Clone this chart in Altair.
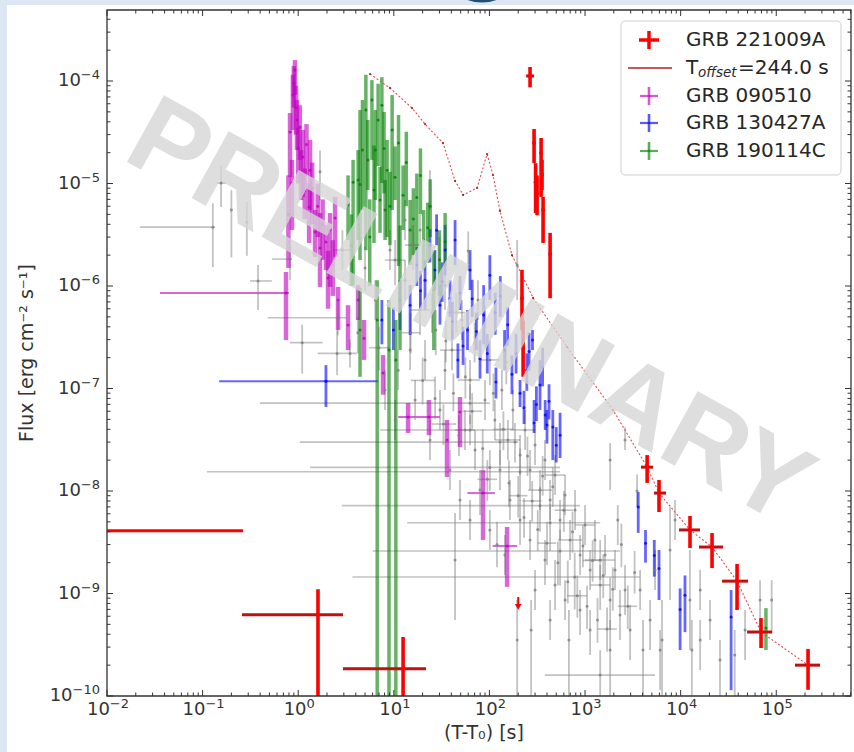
import altair as alt
import pandas as pd

# Light curves: time since trigger (s) and energy flux (erg cm^-2 s^-1).
# Rows: (t, flux, flux_low, flux_high) or (t, flux, flux_low, flux_high, t_low, t_high)
GRB221009A = [
    (1.61, 6.2e-10, 1e-12, 1.1e-9, 0.258, 2.94),
    (12.5, 1.84e-10, 1e-12, 3.77e-10, 2.94, 21.7),
    (219, 7.6e-7, 3.7e-7, 1.44e-6),
    (225, 2.5e-7, 1.3e-7, 4.6e-7),
    (266, 1.12e-4, 8.7e-5, 1.37e-4, 242, 293),
    (293, 2.48e-5, 1.58e-5, 3.4e-5),
    (304, 1.03e-5, 5.15e-6, 1.58e-5),
    (315, 8.1e-6, 4.9e-6, 1.2e-5),
    (347, 1.99e-5, 7.4e-6, 2.78e-5),
    (355, 1.21e-5, 8.6e-6, 1.7e-5),
    (364, 5.5e-6, 2.63e-6, 7.4e-6),
    (431, 2.05e-6, 7.6e-7, 3.3e-6),
    (4460, 1.71e-8, 1.2e-8, 2.24e-8, 3850, 5140),
    (5940, 9.55e-9, 6.24e-9, 1.28e-8, 5270, 7030),
    (12530, 4.17e-9, 2.78e-9, 5.7e-9, 9620, 15960),
    (21300, 2.84e-9, 1.77e-9, 3.89e-9, 15560, 27800),
    (38900, 1.32e-9, 6.9e-10, 1.94e-9, 27100, 50700),
    (69300, 4.21e-10, 2.94e-10, 5.76e-10, 49500, 90400),
    (215000, 2.0e-10, 1.15e-10, 2.88e-10, 157000, 287000),
]
GRB221009A_EARLY = [(0.005, 4.1e-9, 4.1e-9, 4.1e-9, 0.002, 0.265)]
GRB221009A_UL = [(200, 7.4e-10)]

# GRB 221009A light curve shifted by T_offset = 244.0 s
T_OFFSET_T = [5.64, 9.12, 15.5, 21.2, 32.7, 43.7, 53.0, 74.2, 94.4, 109, 129, 172, 219,
              286, 649, 1963, 4460, 5940, 12530, 21300, 38900, 69300, 215000]
T_OFFSET_F = [1.17e-4, 8.55e-5, 5.45e-5, 3.8e-5, 2.48e-5, 1.06e-5, 7.73e-6, 9.04e-6,
              1.94e-5, 1.21e-5, 5.4e-6, 2.0e-6, 1.28e-6, 7.64e-7, 2.54e-7, 6.17e-8,
              1.71e-8, 9.55e-9, 4.17e-9, 2.84e-9, 1.32e-9, 4.21e-10, 2.0e-10]

GRB090510 = [
    (0.924, 1.28e-4, 7.3e-5, 1.6e-4), (0.88, 7.3e-5, 3.33e-5, 1.15e-4),
    (0.90, 9.5e-5, 5.5e-5, 1.4e-4), (0.95, 5.5e-5, 3.0e-5, 9.0e-5),
    (0.821, 3.18e-5, 1.16e-5, 4.87e-5), (0.97, 4.17e-5, 2.12e-5, 6.53e-5),
    (1.04, 3.56e-5, 1.7e-5, 5.8e-5), (0.86, 1.01e-5, 3.52e-6, 1.7e-5),
    (1.0, 2.2e-5, 1.0e-5, 3.5e-5), (0.79, 5e-6, 1.5e-6, 1.2e-5),
    (1.12, 1.81e-5, 7.4e-6, 3.33e-5), (1.33, 1.35e-5, 5.51e-6, 2.66e-5),
    (1.17, 8.5e-6, 4.5e-6, 1.4e-5), (1.22, 2.4e-5, 1.2e-5, 3.8e-5),
    (1.07, 1.21e-5, 6.9e-6, 2.12e-5), (1.30, 5.9e-6, 2.63e-6, 1.01e-5),
    (1.4, 9e-6, 4e-6, 1.6e-5), (1.6, 6e-6, 3e-6, 1e-5),
    (1.50, 3.36e-6, 1.92e-6, 5.51e-6), (1.69, 2.35e-6, 9.8e-7, 5.15e-6),
    (1.8, 4e-6, 1.8e-6, 7e-6), (2.05, 1.2e-6, 6e-7, 2.2e-6),
    (1.95, 2.69e-6, 1.43e-6, 3.95e-6), (2.15, 3.52e-6, 9.8e-7, 5.15e-6),
    (2.3, 1.6e-6, 8e-7, 2.8e-6),
    (2.43, 4.6e-6, 1.92e-6, 7.4e-6), (2.61, 7.3e-7, 3.72e-7, 9.8e-7),
    (0.745, 8.55e-7, 2.97e-7, 1.37e-6, 0.0358, 0.80),
    (3.32, 4.17e-7, 2.37e-7, 6.5e-7), (4.23, 7.3e-7, 4.66e-7, 1.02e-6),
    (4.88, 3.1e-7, 1.9e-7, 4.66e-7), (7.71, 1.42e-7, 8.7e-8, 2.12e-7),
    (14.1, 5.27e-8, 3.68e-8, 7.22e-8, 11.1, 18.8),
    (23.3, 5.27e-8, 3.5e-8, 7.72e-8, 18.8, 30.4),
    (36.0, 3.15e-8, 1.37e-8, 4.93e-8), (49.2, 5.9e-8, 2.69e-8, 8.26e-8),
    (85.7, 9.55e-9, 3.33e-9, 1.6e-8, 58.9, 114),
    (153, 2.91e-9, 1.16e-9, 4.46e-9, 108, 195),
]

GRB130427A = [
    (1.95, 1.18e-7, 6.6e-8, 1.69e-7, 0.149, 6.84),
    (7.5, 4.66e-7, 2.7e-7, 7.3e-7), (9.9, 3.72e-7, 2.37e-7, 6.17e-7),
    (11.6, 7.3e-7, 3.72e-7, 1.14e-6), (14.8, 6.5e-7, 3.33e-7, 1.02e-6),
    (17.4, 1.6e-6, 1.0e-6, 2.4e-6), (19.0, 9e-7, 6e-7, 1.4e-6),
    (21.2, 1.14e-6, 5.83e-7, 1.79e-6),
    (23.9, 2.5e-6, 1.7e-6, 3.6e-6), (26.9, 1.43e-6, 9.14e-7, 2.24e-6),
    (28.0, 3.5e-6, 2.5e-6, 5.0e-6), (30.4, 6.5e-7, 4.2e-7, 1.03e-6),
    (32.0, 1.1e-6, 7e-7, 1.7e-6),
    (34.4, 2.24e-6, 1.27e-6, 3.95e-6), (38.7, 7.6e-7, 5.0e-7, 1.14e-6),
    (41.0, 4.5e-7, 3e-7, 7e-7),
    (43.7, 2.81e-6, 1.6e-6, 4.4e-6), (46.8, 1.9e-7, 1.26e-7, 2.75e-7),
    (49.2, 8.6e-7, 5.83e-7, 1.25e-6), (53.0, 2.6e-7, 1.7e-7, 4e-7),
    (59.0, 3.72e-7, 2.37e-7, 5.83e-7),
    (62.7, 1.43e-6, 9.14e-7, 2.24e-6), (66.0, 7.5e-7, 5e-7, 1.15e-6),
    (73.0, 3.6e-7, 2.37e-7, 5.5e-7),
    (79.7, 1.95e-7, 1.25e-7, 2.97e-7), (87.0, 5.2e-7, 2.7e-7, 1.02e-6),
    (95.0, 2.2e-7, 1.4e-7, 3.4e-7),
    (101, 1.27e-6, 7.3e-7, 2.0e-6), (115, 5.5e-7, 3.35e-7, 8.6e-7),
    (117, 1.16e-7, 8.0e-8, 1.6e-7), (130, 8e-7, 5e-7, 1.25e-6),
    (144, 2.37e-7, 1.51e-7, 3.72e-7),
    (155, 4.2e-7, 2.6e-7, 6.2e-7), (172, 1.38e-7, 8.8e-8, 2.1e-7),
    (190, 2.2e-7, 1.4e-7, 3.4e-7),
    (209, 9.0e-8, 6.6e-8, 1.21e-7), (230, 6.5e-8, 4.5e-8, 9.5e-8),
    (246, 1.51e-7, 9.5e-8, 2.2e-7), (260, 2.3e-7, 1.5e-7, 3.5e-7),
    (282, 2.97e-7, 2.37e-7, 3.72e-7), (293, 4.6e-8, 3.68e-8, 7.72e-8),
    (310, 7e-8, 4.8e-8, 1.05e-7),
    (338, 1.08e-7, 6.17e-8, 1.9e-7), (360, 1.6e-7, 1.05e-7, 2.5e-7),
    (383, 5.5e-8, 3.94e-8, 7.72e-8),
    (400, 4.4e-8, 2.9e-8, 6.17e-8), (420, 7.5e-8, 5e-8, 1.1e-7),
    (460, 4.2e-8, 2.0e-8, 6.17e-8), (500, 2.8e-8, 1.9e-8, 4.2e-8),
    (548, 3.5e-8, 2.1e-8, 5.8e-8),
    (3600, 7.0e-9, 3.9e-9, 9.8e-9), (4290, 3.1e-9, 2.0e-9, 4.17e-9),
    (5300, 2.35e-9, 1.46e-9, 3.33e-9), (5940, 1.75e-9, 8.64e-10, 2.66e-9),
    (9870, 7.0e-10, 2.81e-10, 1.12e-9), (11100, 9.6e-10, 4.2e-10, 1.5e-9),
    (33700, 5.9e-10, 1.14e-10, 1.08e-9),
]

GRB190114C = [
    (3.32, 6.2e-6, 2.81e-6, 1.2e-5), (3.75, 1.03e-5, 1.02e-6, 1.7e-5),
    (3.6, 2.5e-6, 1e-6, 5e-6),
    (4.23, 1.08e-5, 2.81e-6, 2.12e-5), (4.43, 9.8e-6, 1.79e-6, 5.21e-5),
    (4.7, 2.12e-5, 5.51e-6, 6.53e-5), (5.1, 5.21e-5, 2.24e-6, 1.15e-4),
    (5.35, 1.7e-5, 8.64e-6, 4.17e-5), (5.6, 3e-6, 1e-6, 7e-6),
    (5.9, 6.53e-5, 1.7e-5, 1.02e-4),
    (6.2, 8.64e-6, 2.63e-6, 2.35e-5), (6.4, 2.12e-5, 6.9e-6, 5.21e-5),
    (6.85, 4.17e-5, 1.48e-5, 9.4e-5), (7.17, 6.9e-6, 3.3e-6, 1.45e-5),
    (7.5, 5.8e-5, 1.01e-5, 1.09e-4), (7.9, 2.2e-5, 8e-6, 5e-5),
    (8.1, 5.51e-6, 2.81e-6, 1.08e-5),
    (8.5, 1.35e-5, 3.0e-6, 2.66e-5), (9.1, 6e-6, 2.5e-6, 1.3e-5),
    (9.6, 3.33e-5, 5.51e-6, 7.3e-5),
    (10.3, 1.15e-5, 6.9e-6, 2.3e-5), (11.2, 2.48e-5, 1.57e-6, 4.67e-5),
    (12.5, 7.7e-6, 3.52e-6, 1.5e-5), (13.5, 1.6e-5, 6e-6, 3.2e-5),
    (14.8, 3.52e-6, 1.6e-6, 6.9e-6), (16.0, 4.5e-6, 2e-6, 9e-6),
    (17.4, 7.3e-6, 2.24e-6, 1.25e-5), (19.0, 1.2e-5, 5e-6, 2.2e-5),
    (20.5, 2.81e-6, 1.43e-6, 5.51e-6),
    (22.6, 3.7e-6, 1.68e-6, 6.5e-6), (24.0, 6e-6, 3e-6, 1.1e-5),
    (26.2, 9.14e-7, 2.37e-7, 2.24e-6), (30.0, 1.8e-6, 8e-7, 3.5e-6),
    (34.4, 2.7e-6, 1.56e-6, 5.15e-6), (11.6, 7.3e-7, 2.37e-7, 3.9e-6),
    (4.43, 3.72e-7, 1.3e-7, 9.6e-7),
    (6.7, 4.66e-7, 1e-12, 1.14e-6), (8.9, 2.37e-7, 1e-12, 7.3e-7),
    (10.5, 1.9e-7, 1e-12, 4.66e-7),
    (78000, 4.6e-10, 2.81e-10, 7.2e-10),
]

OTHER_GRBS = [
    (0.156, 1.01e-5, 5.9e-6, 1.5e-5, 0.14, 0.175),
    (0.128, 3.75e-6, 1.53e-6, 6.4e-6, 0.0221, 0.135),
    (0.20, 5.5e-6, 1.9e-6, 8.6e-6), (0.29, 4.2e-6, 1.97e-6, 6.6e-6),
    (0.38, 1.12e-6, 5.83e-7, 1.6e-6, 0.313, 0.53),
    (0.82, 1.83e-6, 1.14e-6, 2.81e-6, 0.53, 0.86),
    (1.1, 2.8e-7, 1.4e-7, 4.2e-7, 0.82, 1.8),
    (1.69, 1.3e-5, 6.9e-6, 2.1e-5),
    (2.6, 4.9e-7, 3.3e-7, 7e-7, 0.48, 3.2),
    (2.9, 2.24e-6, 1.43e-6, 3.5e-6, 2.3, 3.7),
    (2.55, 2.2e-7, 1.35e-7, 3.7e-7),
    (3.48, 2.2e-7, 1.6e-7, 3e-7, 1.6, 4.1),
    (4.2, 3.5e-7, 2.2e-7, 5e-7),
    (62.7, 7.2e-8, 4.5e-8, 1.1e-7, 0.398, 101),
    (129, 3.0e-8, 1.8e-8, 4.6e-8, 1.04, 200),
    (209, 1.54e-8, 8e-9, 2.6e-8, 0.111, 548),
    (338, 7.2e-9, 4e-9, 1.1e-8, 2.85, 887),
    (431, 4.9e-9, 2.6e-9, 7.5e-9, 13.8, 1440),
    (548, 2.6e-9, 1.2e-9, 4.2e-9, 6.0, 2320),
    (780, 1.45e-9, 7e-10, 2.5e-9, 3.7, 3770),
    (1440, 1.6e-10, 1e-12, 2.8e-10, 380, 5400),
    (101, 1.7e-8, 1e-8, 2.5e-8, 1.33, 548),
    (62.7, 3.94e-8, 2.8e-8, 5.5e-8, 7.17, 150),
    (10.3, 1.79e-6, 1.02e-6, 2.81e-6, 8.09, 13.1),
    (13.1, 1.14e-6, 7.3e-7, 1.79e-6),
    (15.9, 2.51e-6, 1.43e-6, 3.94e-6, 13.1, 18.8),
    (23.9, 8.64e-6, 5.51e-6, 1.35e-5),
    (18.8, 5.83e-7, 3.33e-7, 9.14e-7, 14.8, 23.9),
    (27.5, 3.72e-7, 2.12e-7, 5.83e-7),
    (34.3, 1.02e-6, 5.83e-7, 1.6e-6),
    (40.6, 2.37e-7, 1.51e-7, 3.72e-7, 30.4, 51.6),
    (51.6, 4.66e-7, 2.97e-7, 7.3e-7),
    (62.7, 1.21e-7, 7.72e-8, 1.9e-7, 46.8, 79.7),
    (75.8, 7.3e-7, 4.66e-7, 1.14e-6),
    (89.9, 7.72e-8, 4.93e-8, 1.21e-7),
    (101, 1.9e-7, 1.08e-7, 2.97e-7, 79.7, 129),
    (114, 4.93e-8, 3.15e-8, 7.72e-8),
    (135, 9.66e-8, 6.17e-8, 1.51e-7),
    (156, 3.15e-8, 2.01e-8, 4.93e-8, 114, 209),
    (176, 6.17e-8, 3.94e-8, 9.66e-8),
    (195, 1.6e-6, 7.3e-7, 2.81e-6),
    (209, 2.24e-8, 1.43e-8, 3.52e-8),
    (236, 3.94e-8, 2.51e-8, 6.17e-8, 164, 300),
    (266, 1.6e-8, 1.02e-8, 2.51e-8),
    (300, 2.81e-8, 1.79e-8, 4.4e-8),
    (338, 1.02e-8, 6.53e-9, 1.6e-8, 254, 452),
    (381, 2.01e-8, 1.28e-8, 3.15e-8),
    (431, 8.17e-9, 5.21e-9, 1.28e-8),
    (486, 1.43e-8, 9.14e-9, 2.24e-8, 381, 618),
    (548, 5.21e-9, 3.33e-9, 8.17e-9),
    (618, 9.14e-9, 5.83e-9, 1.43e-8),
    (697, 3.33e-9, 2.12e-9, 5.21e-9, 520, 930),
    (786, 6.53e-9, 4.17e-9, 1.02e-8),
    (887, 2.37e-9, 1.51e-9, 3.72e-9),
    (1000, 4.66e-9, 2.97e-9, 7.3e-9, 786, 1270),
    (1130, 1.7e-9, 1.08e-9, 2.66e-9),
    (1270, 3.33e-9, 2.12e-9, 5.21e-9),
    (1440, 1.21e-9, 6.9e-10, 1.9e-9, 1130, 1830),
    (1620, 2.37e-9, 1.51e-9, 3.72e-9),
    (1830, 8.64e-10, 4.4e-10, 1.43e-9),
    (2060, 1.7e-9, 1.08e-9, 2.66e-9),
    (2320, 6.17e-10, 3.52e-10, 1.08e-9),
    (2620, 1.08e-9, 6.17e-10, 1.9e-9),
    (2960, 4.4e-10, 2.24e-10, 7.72e-10),
    (1830, 2.01e-8, 1.02e-8, 2.94e-8),
    (2620, 3.15e-8, 2.51e-8, 4.18e-8),
    (2200, 5.21e-9, 2.97e-9, 7.3e-9),
    (7750, 2.66e-9, 8.64e-10, 7.0e-9),
    (12500, 8.64e-10, 2.81e-10, 2.66e-9),
    (89500, 8.64e-10, 4.1e-10, 1.35e-9),
    (16000, 3.52e-10, 1.79e-10, 5.51e-10),
    (4790, 5.51e-10, 2.81e-10, 8.64e-10),
    (25800, 2.24e-10, 5e-11, 3.52e-10),
    (47200, 4.4e-10, 2.24e-10, 6.9e-10),
    (6100, 2.81e-10, 1.14e-10, 4.4e-10),
    (43.7, 2.12e-9, 5.51e-10, 6.1e-9),
    (195, 3.52e-10, 1e-12, 8.64e-10),
    (273, 4.4e-10, 1e-12, 8.64e-10),
    (678, 3.52e-10, 1e-12, 6.9e-10),
    (1830, 2.81e-10, 1e-12, 5.51e-10),
    (4040, 2.81e-10, 1e-12, 5.51e-10),
    (6390, 3.52e-10, 1e-12, 8.64e-10),
    (13100, 2.81e-10, 1e-12, 5.51e-10),
    (36800, 2.51e-10, 1e-12, 4.4e-10),
    (55.5, 3.94e-8, 2.51e-8, 6.17e-8, 43.7, 70.7),
    (70.7, 2.51e-8, 1.6e-8, 3.94e-8),
    (79.7, 1.02e-8, 5.83e-9, 1.6e-8),
    (129, 1.6e-8, 1.02e-8, 2.51e-8),
    (164, 8.17e-9, 5.21e-9, 1.28e-8),
    (209, 5.21e-9, 2.97e-9, 8.17e-9),
    (266, 3.33e-9, 2.12e-9, 5.21e-9),
    (381, 2.12e-9, 1.21e-9, 3.33e-9),
    (486, 1.21e-9, 6.9e-10, 2.12e-9),
    (618, 8.64e-10, 5.51e-10, 1.35e-9),
    (887, 6.9e-10, 3.94e-10, 1.08e-9),
    (1130, 4.4e-10, 2.51e-10, 6.9e-10),
    (1440, 2.12e-9, 1.35e-9, 3.33e-9, 1000, 2060),
    (30.4, 6.17e-8, 3.94e-8, 9.66e-8),
    (34.3, 1.51e-7, 9.66e-8, 2.37e-7),
    (21.2, 1.9e-7, 1.21e-7, 2.97e-7),
    (14.8, 2.37e-7, 1.51e-7, 3.72e-7),
    (11.1, 1.51e-7, 9.66e-8, 2.37e-7),
    (8.09, 9.66e-8, 6.17e-8, 1.51e-7),
    (10.3, 4.93e-8, 3.15e-8, 7.72e-8),
    (16.7, 7.72e-8, 4.93e-8, 1.21e-7),
    (23.9, 3.15e-8, 2.01e-8, 4.93e-8),
    (38.7, 1.6e-8, 1.02e-8, 2.51e-8),
    (49.2, 8.17e-9, 5.21e-9, 1.28e-8),
    (62.7, 5.21e-9, 3.33e-9, 8.17e-9),
    (101, 4.17e-9, 2.66e-9, 6.53e-9),
    (145, 2.37e-9, 1.51e-9, 3.72e-9),
    (300, 1.08e-9, 6.9e-10, 1.7e-9),
    (431, 5.51e-10, 3.52e-10, 8.64e-10),
    (3770, 1.08e-9, 6.9e-10, 1.7e-9),
    (5400, 1.7e-9, 1.08e-9, 2.66e-9),
    (8740, 5.21e-9, 3.33e-9, 8.17e-9),
    (16000, 1.08e-9, 6.9e-10, 1.7e-9),
    (20300, 5.51e-10, 3.52e-10, 8.64e-10),
    (67700, 8.64e-10, 4.4e-10, 1.35e-9),
    (6.4, 7.3e-7, 4.66e-7, 1.14e-6),
    (9.12, 2.24e-6, 1.43e-6, 3.52e-6),
    (13.1, 4.4e-6, 2.81e-6, 6.9e-6),
    (18.8, 3.52e-6, 2.45e-6, 4.93e-6),
    (20, 1.2e-7, 7e-8, 2e-7, 15, 27),
    (27, 8e-8, 5e-8, 1.3e-7),
    (33, 4.5e-8, 2.8e-8, 7e-8, 25, 45),
    (42, 9e-8, 6e-8, 1.4e-7),
    (48, 3.5e-8, 2.2e-8, 5.5e-8),
    (56, 1.3e-7, 8e-8, 2e-7),
    (66, 6e-8, 4e-8, 9e-8, 52, 84),
    (85, 2.6e-8, 1.6e-8, 4e-8),
    (95, 1.3e-8, 8e-9, 2e-8, 75, 120),
    (110, 9e-8, 6e-8, 1.4e-7),
    (120, 3e-9, 1.8e-9, 5e-9),
    (140, 4e-8, 2.5e-8, 6e-8, 110, 180),
    (160, 1.2e-8, 7e-9, 2e-8),
    (185, 3e-8, 1.9e-8, 4.6e-8),
    (200, 9e-9, 5.5e-9, 1.4e-8, 160, 250),
    (230, 5.5e-9, 3.5e-9, 8.5e-9),
    (250, 2.2e-8, 1.4e-8, 3.4e-8),
    (280, 8e-9, 5e-9, 1.25e-8, 220, 350),
    (320, 4.2e-9, 2.6e-9, 6.5e-9),
    (360, 1.4e-8, 9e-9, 2.2e-8),
    (400, 3.1e-9, 1.9e-9, 5e-9, 320, 500),
    (460, 1.1e-8, 7e-9, 1.7e-8),
    (520, 2.0e-9, 1.2e-9, 3.2e-9),
    (600, 6.5e-9, 4e-9, 1e-8, 480, 750),
    (660, 1.3e-9, 8e-10, 2.1e-9),
    (740, 4.0e-9, 2.5e-9, 6.3e-9),
    (830, 9.5e-10, 5.8e-10, 1.5e-9, 650, 1050),
    (950, 2.9e-9, 1.8e-9, 4.6e-9),
    (1050, 7.5e-10, 4.5e-10, 1.2e-9),
    (1200, 2.1e-9, 1.3e-9, 3.3e-9, 950, 1500),
    (1350, 5.5e-10, 3.3e-10, 9e-10),
    (1550, 1.5e-9, 9e-10, 2.4e-9),
    (1700, 4.5e-10, 2.7e-10, 7.3e-10, 1350, 2150),
    (1950, 1.1e-9, 6.8e-10, 1.8e-9),
    (2400, 3.0e-9, 1.8e-9, 4.8e-9),
    (2800, 7.5e-10, 4.5e-10, 1.2e-9, 2200, 3500),
    (3300, 1.6e-9, 1e-9, 2.6e-9),
    (3500, 1.0e-8, 7e-9, 1.45e-8),
    (15, 3.5e-7, 2.2e-7, 5.5e-7, 12, 19),
    (25, 5.5e-7, 3.5e-7, 8.5e-7),
    (35, 2.9e-7, 1.8e-7, 4.6e-7),
    (45, 5.5e-7, 3.5e-7, 8.5e-7, 36, 56),
    (70, 2.8e-7, 1.8e-7, 4.4e-7),
    (90, 4.0e-7, 2.5e-7, 6.3e-7),
    (150, 1.8e-7, 1.1e-7, 2.8e-7),
    (7, 2.5e-7, 1.5e-7, 4e-7, 5.5, 9),
    (5, 1.5e-6, 9e-7, 2.4e-6),
    (60, 2.2e-6, 1.4e-6, 3.4e-6),
    (30, 1.9e-6, 1.2e-6, 3e-6),
]

X_TICKS = [1e-2, 1e-1, 1e0, 1e1, 1e2, 1e3, 1e4, 1e5]
X_TICK_EXPONENTS = ["−2", "−1", "0", "1", "2", "3", "4", "5"]
Y_TICKS = [1e-10, 1e-9, 1e-8, 1e-7, 1e-6, 1e-5, 1e-4]
Y_TICK_EXPONENTS = ["−10", "−9", "−8", "−7", "−6", "−5", "−4"]
X_TITLE = "(T-T₀) [s]"
Y_TITLE = "Flux [erg cm⁻² s⁻¹]"

LEGEND_LABELS = ["GRB 221009A", "T", "GRB 090510", "GRB 130427A", "GRB 190114C"]

# ---------------------------------------------------------------- styling
W, H = 744, 686
X_DOMAIN = [1e-2, 6.05e5]
Y_DOMAIN = [1e-10, 4.93e-4]
FONT = "DejaVu Sans"
TXT = "#333333"
RED, DARKRED = "#ff0000", "#c01010"
SERIES_STYLE = {
    "other":   dict(color="#808080", alpha=0.48, w_y=1.8, w_x=1.6),
    "090510":  dict(color="#bf00bf", alpha=0.6, w_y=4.5, w_x=2.0),
    "130427A": dict(color="#0000ff", alpha=0.6, w_y=2.8, w_x=2.0),
    "190114C": dict(color="#008000", alpha=0.6, w_y=3.5, w_x=2.0),
}
BASE_SIZE, EXP_SIZE = 18, 13          # tick label "10" and its exponent
EM = {"−": 0.838}                      # DejaVu Sans advance widths (em)

XS = alt.Scale(type="log", domain=X_DOMAIN, nice=False)
YS = alt.Scale(type="log", domain=Y_DOMAIN, nice=False)


def X(field):
    return alt.X(field, type="quantitative", scale=XS, axis=None)


def Y(field):
    return alt.Y(field, type="quantitative", scale=YS, axis=None)


def table(points, series):
    recs = []
    for p in points:
        t, f, lo, hi = p[:4]
        t_lo, t_hi = (p[4], p[5]) if len(p) == 6 else (t, t)
        recs.append({"series": series, "t": t, "f": f, "f_lo": lo, "f_hi": hi,
                     "t_lo": t_lo, "t_hi": t_hi})
    return pd.DataFrame(recs)


ONE = pd.DataFrame({"k": [0]})


def px_rect(x1, x2, y1, y2, color):
    return alt.Chart(ONE).mark_rect(color=color).encode(
        x=alt.value(x1), x2=alt.value(x2), y=alt.value(y1), y2=alt.value(y2))


def px_rule(x1, x2, y1, y2, color, width, opacity=1.0):
    return alt.Chart(ONE).mark_rule(color=color, strokeWidth=width, opacity=opacity).encode(
        x=alt.value(x1), x2=alt.value(x2), y=alt.value(y1), y2=alt.value(y2))


def px_text(x, y, text, size, style="normal", color="#262626", **kw):
    return alt.Chart(ONE).mark_text(text=text, baseline="middle", font=FONT,
                                    fontSize=size, fontStyle=style, color=color,
                                    **({"align": "left"} | kw)).encode(
        x=alt.value(x), y=alt.value(y))


def exp_width(s):
    return EXP_SIZE * sum(EM.get(c, 0.636) for c in s)


# ---------------------------------------------------------------- slide border
SLIDE = "#dce7f3"
border = [px_rect(-107, -100, -10, H + 56, SLIDE), px_rect(-107, W + 3, -10, -5, SLIDE)]
badge = alt.Chart(ONE).mark_circle(size=7238, color="#1f4e79", opacity=1).encode(
    x=alt.value(375), y=alt.value(-50))

# ---------------------------------------------------------------- comparison GRBs
comp = pd.concat([table(OTHER_GRBS, "other"), table(GRB090510, "090510"),
                  table(GRB130427A, "130427A"), table(GRB190114C, "190114C")],
                 ignore_index=True)
for key in ("color", "alpha", "w_y", "w_x"):
    comp[key] = comp["series"].map({s: v[key] for s, v in SERIES_STYLE.items()})

cbase = alt.Chart(comp)
comp_x = cbase.transform_filter("datum.t_hi > datum.t_lo").mark_rule(clip=True).encode(
    x=X("t_lo"), x2="t_hi:Q", y=Y("f"),
    color=alt.Color("color:N", scale=None),
    opacity=alt.Opacity("alpha:Q", scale=None),
    strokeWidth=alt.StrokeWidth("w_x:Q", scale=None))
comp_y = cbase.mark_rule(clip=True).encode(
    x=X("t"), y=Y("f_lo"), y2="f_hi:Q",
    color=alt.Color("color:N", scale=None),
    opacity=alt.Opacity("alpha:Q", scale=None),
    strokeWidth=alt.StrokeWidth("w_y:Q", scale=None))
comp_pt = cbase.mark_circle(size=9, clip=True, opacity=0.8).encode(
    x=X("t"), y=Y("f"), color=alt.Color("color:N", scale=None))

# ---------------------------------------------------------------- T_offset curve
toff = pd.DataFrame({"t": T_OFFSET_T, "f": T_OFFSET_F})
toff_line = alt.Chart(toff).mark_line(color="#e84a4a", strokeWidth=1.1, strokeDash=[2, 2],
                                      clip=True).encode(x=X("t"), y=Y("f"))
toff_pt = alt.Chart(toff).mark_circle(size=5, color="#9a1a1a", opacity=0.9,
                                      clip=True).encode(x=X("t"), y=Y("f"))

# ---------------------------------------------------------------- GRB 221009A
rbase = alt.Chart(table(GRB221009A, "221009A"))
red_x = rbase.transform_filter("datum.t_hi > datum.t_lo").mark_rule(
    clip=True, color=DARKRED, strokeWidth=3).encode(x=X("t_lo"), x2="t_hi:Q", y=Y("f"))
red_y = rbase.mark_rule(clip=True, color=RED, strokeWidth=3.6).encode(
    x=X("t"), y=Y("f_lo"), y2="f_hi:Q")
red_pt = rbase.mark_circle(size=16, color=RED, opacity=1, clip=True).encode(
    x=X("t"), y=Y("f"))
early = alt.Chart(table(GRB221009A_EARLY, "221009A")).mark_rule(
    clip=True, color=RED, strokeWidth=3).encode(x=X("t_lo"), x2="t_hi:Q", y=Y("f"))

ul = pd.DataFrame(GRB221009A_UL, columns=["t", "f"])
ul_stem = alt.Chart(ul).transform_calculate(top="datum.f * 1.25").mark_rule(
    color=RED, strokeWidth=2).encode(x=X("t"), y=Y("f"), y2="top:Q")
ul_head = alt.Chart(ul).mark_point(shape="triangle-down", filled=True, size=45,
                                   color=RED, opacity=1).encode(x=X("t"), y=Y("f"))

# ---------------------------------------------------------------- axes: inward ticks, labels, frame
X_MINOR = [m * 10.0 ** k for k in range(-2, 6) for m in range(2, 10) if m * 10.0 ** k < X_DOMAIN[1]]
Y_MINOR = [m * 10.0 ** k for k in range(-10, -3) for m in range(2, 10) if m * 10.0 ** k < Y_DOMAIN[1]]


def xticks(values, length):
    d = alt.Chart(pd.DataFrame({"v": values}))
    bottom = d.mark_rule(color=TXT, strokeWidth=1).encode(
        x=X("v"), y=alt.value(H), y2=alt.value(H - length))
    top = d.mark_rule(color=TXT, strokeWidth=1).encode(
        x=X("v"), y=alt.value(0), y2=alt.value(length))
    return [bottom, top]


def yticks(values, length):
    d = alt.Chart(pd.DataFrame({"v": values}))
    left = d.mark_rule(color=TXT, strokeWidth=1).encode(
        y=Y("v"), x=alt.value(0), x2=alt.value(length))
    right = d.mark_rule(color=TXT, strokeWidth=1).encode(
        y=Y("v"), x=alt.value(W), x2=alt.value(W - length))
    return [left, right]


ticks = xticks(X_TICKS, 6) + xticks(X_MINOR, 3.5) + yticks(Y_TICKS, 6) + yticks(Y_MINOR, 3.5)

BASE_W = BASE_SIZE * 1.272
tick_labels = []
# x: "10" followed by a raised exponent, the pair centred under the tick
for n in sorted({len(e) for e in X_TICK_EXPONENTS}):
    vals = [v for v, e in zip(X_TICKS, X_TICK_EXPONENTS) if len(e) == n]
    exps = [e for e in X_TICK_EXPONENTS if len(e) == n]
    ew = exp_width(exps[0])
    left = 1 - (BASE_W + ew) / 2
    d = alt.Chart(pd.DataFrame({"v": vals, "e": exps}))
    tick_labels += [
        d.mark_text(text="10", font=FONT, fontSize=BASE_SIZE, color=TXT, align="left",
                    baseline="middle", dx=left).encode(x=X("v"), y=alt.value(H + 14)),
        d.mark_text(font=FONT, fontSize=EXP_SIZE, color=TXT, align="left",
                    baseline="middle", dx=left + BASE_W).encode(
            x=X("v"), y=alt.value(H + 8), text="e:N"),
    ]
# y: right-aligned just left of the frame
for n in sorted({len(e) for e in Y_TICK_EXPONENTS}):
    vals = [v for v, e in zip(Y_TICKS, Y_TICK_EXPONENTS) if len(e) == n]
    exps = [e for e in Y_TICK_EXPONENTS if len(e) == n]
    ew = exp_width(exps[0])
    d = alt.Chart(pd.DataFrame({"v": vals, "e": exps}))
    tick_labels += [
        d.mark_text(text="10", font=FONT, fontSize=BASE_SIZE, color=TXT, align="right",
                    baseline="middle").encode(y=Y("v"), x=alt.value(-7 - ew)),
        d.mark_text(font=FONT, fontSize=EXP_SIZE, color=TXT, align="right",
                    baseline="middle", dy=-6).encode(y=Y("v"), x=alt.value(-7), text="e:N"),
    ]

x_title = px_text(W / 2 + 5, H + 37, X_TITLE, 19, color=TXT, align="center")
y_title = px_text(-80, H / 2, Y_TITLE, 19, color=TXT, align="center", angle=270)

frame = alt.Chart(ONE).mark_rect(filled=False, stroke=TXT, strokeWidth=1.3).encode(
    x=alt.value(0), x2=alt.value(W), y=alt.value(0), y2=alt.value(H))

# ---------------------------------------------------------------- legend
LX, TX = 542, 579
ROWS = [30, 58, 86, 113, 141]
legend = [alt.Chart(ONE).mark_rect(fill="white", fillOpacity=0.85, stroke="#cfcfcf",
                                   strokeWidth=1, cornerRadius=4).encode(
    x=alt.value(514), x2=alt.value(734), y=alt.value(11), y2=alt.value(165))]
legend += [px_rule(LX - 10, LX + 10, ROWS[0], ROWS[0], RED, 3.5),
           px_rule(LX, LX, ROWS[0] - 9, ROWS[0] + 9, RED, 3.5),
           px_text(TX, ROWS[0], LEGEND_LABELS[0], 20)]
legend += [px_rule(LX - 21, LX + 23, ROWS[1], ROWS[1], "#b22222", 1.6),
           px_text(TX, ROWS[1], LEGEND_LABELS[1], 20),
           px_text(TX + 12, ROWS[1] + 5, "offset", 13.5, "italic"),
           px_text(TX + 52, ROWS[1], "=244.0 s", 20)]
for row, key, lab in zip(ROWS[2:], ["090510", "130427A", "190114C"], LEGEND_LABELS[2:]):
    col = SERIES_STYLE[key]["color"]
    legend += [px_rule(LX - 9, LX + 9, row, row, col, 2.2, 0.65),
               px_rule(LX, LX, row - 9, row + 9, col, 2.6, 0.65),
               px_text(TX, row, lab, 20)]

# ---------------------------------------------------------------- watermark
watermark = alt.Chart(ONE).mark_text(
    text="PRELIMINARY", angle=29, fontSize=111, font="Liberation Sans", fontWeight="bold",
    color="#d6d6d6", opacity=0.8, align="center", baseline="middle").encode(
    x=alt.value(362), y=alt.value(304))

chart = alt.layer(
    *border, badge, comp_x, comp_y, comp_pt, toff_line, toff_pt,
    early, red_x, red_y, red_pt, ul_stem, ul_head,
    *ticks, frame, *tick_labels, x_title, y_title, *legend, watermark,
).properties(
    width=W, height=H,
    autosize=alt.AutoSizeParams(type="none"),
    padding={"left": 107, "top": 10, "right": 3, "bottom": 56},
).configure(background="white").configure_view(stroke=None)

chart.save("out.html", embed_options={"renderer": "svg", "actions": False})
